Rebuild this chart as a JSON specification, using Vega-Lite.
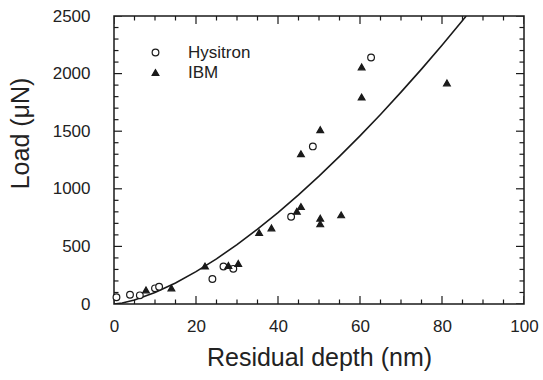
{
  "$schema": "https://vega.github.io/schema/vega-lite/v6.json",
  "width": 410,
  "height": 288,
  "autosize": {"type": "none"},
  "padding": {"left": 114, "top": 16, "right": 19, "bottom": 76},
  "background": "white",
  "config": {
    "view": {"stroke": "#1a1a1a", "strokeWidth": 1.5},
    "font": "Liberation Sans",
    "axis": {"grid": false, "domain": false, "ticks": false, "labelColor": "#222", "titleColor": "#222", "titleFontWeight": "normal", "labelFlush": false}
  },
  "datasets": {
    "curve": [
      {"depth": 0, "load": 0}, {"depth": 2, "load": 8.9}, {"depth": 5, "load": 35}, {"depth": 10, "load": 99},
      {"depth": 15, "load": 182}, {"depth": 20, "load": 281}, {"depth": 25, "load": 392}, {"depth": 30, "load": 516},
      {"depth": 35, "load": 650}, {"depth": 40, "load": 794}, {"depth": 45, "load": 948}, {"depth": 50, "load": 1110},
      {"depth": 55, "load": 1281}, {"depth": 60, "load": 1459}, {"depth": 65, "load": 1645}, {"depth": 70, "load": 1839},
      {"depth": 75, "load": 2039}, {"depth": 80, "load": 2247}, {"depth": 85, "load": 2461}, {"depth": 85.9, "load": 2500}
    ],
    "pts": [
      {"series": "Hysitron", "depth": 0.6, "load": 58},
      {"series": "Hysitron", "depth": 3.9, "load": 80},
      {"series": "Hysitron", "depth": 6.3, "load": 75},
      {"series": "Hysitron", "depth": 10, "load": 136},
      {"series": "Hysitron", "depth": 11, "load": 150},
      {"series": "Hysitron", "depth": 24, "load": 217},
      {"series": "Hysitron", "depth": 26.7, "load": 325},
      {"series": "Hysitron", "depth": 29.1, "load": 305},
      {"series": "Hysitron", "depth": 43.2, "load": 758},
      {"series": "Hysitron", "depth": 48.5, "load": 1368},
      {"series": "Hysitron", "depth": 62.7, "load": 2140},
      {"series": "IBM", "depth": 7.8, "load": 122},
      {"series": "IBM", "depth": 14, "load": 140},
      {"series": "IBM", "depth": 22.2, "load": 330},
      {"series": "IBM", "depth": 27.9, "load": 335},
      {"series": "IBM", "depth": 30.3, "load": 352},
      {"series": "IBM", "depth": 35.4, "load": 620},
      {"series": "IBM", "depth": 38.4, "load": 660},
      {"series": "IBM", "depth": 44.6, "load": 805},
      {"series": "IBM", "depth": 45.6, "load": 846},
      {"series": "IBM", "depth": 45.6, "load": 1304},
      {"series": "IBM", "depth": 50.3, "load": 745},
      {"series": "IBM", "depth": 50.3, "load": 696},
      {"series": "IBM", "depth": 50.3, "load": 1513},
      {"series": "IBM", "depth": 55.4, "load": 774},
      {"series": "IBM", "depth": 60.4, "load": 1797},
      {"series": "IBM", "depth": 60.4, "load": 2058},
      {"series": "IBM", "depth": 81.2, "load": 1919}
    ],
    "xt": [
      {"depth": 0, "kind": "major"}, {"depth": 5, "kind": "minor"}, {"depth": 10, "kind": "minor"}, {"depth": 15, "kind": "minor"},
      {"depth": 20, "kind": "major"}, {"depth": 25, "kind": "minor"}, {"depth": 30, "kind": "minor"}, {"depth": 35, "kind": "minor"},
      {"depth": 40, "kind": "major"}, {"depth": 45, "kind": "minor"}, {"depth": 50, "kind": "minor"}, {"depth": 55, "kind": "minor"},
      {"depth": 60, "kind": "major"}, {"depth": 65, "kind": "minor"}, {"depth": 70, "kind": "minor"}, {"depth": 75, "kind": "minor"},
      {"depth": 80, "kind": "major"}, {"depth": 85, "kind": "minor"}, {"depth": 90, "kind": "minor"}, {"depth": 95, "kind": "minor"},
      {"depth": 100, "kind": "major"}
    ],
    "yt": [
      {"load": 0, "kind": "major"}, {"load": 100, "kind": "minor"}, {"load": 200, "kind": "minor"}, {"load": 300, "kind": "minor"}, {"load": 400, "kind": "minor"},
      {"load": 500, "kind": "major"}, {"load": 600, "kind": "minor"}, {"load": 700, "kind": "minor"}, {"load": 800, "kind": "minor"}, {"load": 900, "kind": "minor"},
      {"load": 1000, "kind": "major"}, {"load": 1100, "kind": "minor"}, {"load": 1200, "kind": "minor"}, {"load": 1300, "kind": "minor"}, {"load": 1400, "kind": "minor"},
      {"load": 1500, "kind": "major"}, {"load": 1600, "kind": "minor"}, {"load": 1700, "kind": "minor"}, {"load": 1800, "kind": "minor"}, {"load": 1900, "kind": "minor"},
      {"load": 2000, "kind": "major"}, {"load": 2100, "kind": "minor"}, {"load": 2200, "kind": "minor"}, {"load": 2300, "kind": "minor"}, {"load": 2400, "kind": "minor"},
      {"load": 2500, "kind": "major"}
    ]
  },
  "layer": [
    {
      "data": {"name": "curve"},
      "mark": {"type": "line", "color": "#1a1a1a", "strokeWidth": 1.6, "clip": true},
      "encoding": {
        "x": {"field": "depth", "type": "quantitative", "scale": {"domain": [0, 100], "nice": false},
          "axis": {"orient": "bottom", "values": [0, 20, 40, 60, 80, 100], "format": "d",
            "labelPadding": 14, "labelFontSize": 17,
            "title": "Residual depth (nm)", "titleFontSize": 25, "titleY": 53, "titleBaseline": "middle"}},
        "y": {"field": "load", "type": "quantitative", "scale": {"domain": [0, 2500], "nice": false},
          "axis": {"orient": "left", "values": [0, 500, 1000, 1500, 2000, 2500], "format": "d",
            "labelPadding": 24, "labelFontSize": 17,
            "title": "Load (μN)", "titleFontSize": 25, "titleX": -94, "titleY": 117, "titleAngle": -90, "titleAlign": "center", "titleBaseline": "middle"}}
      }
    },
    {
      "data": {"name": "xt"}, "transform": [{"filter": "datum.kind === 'major'"}],
      "mark": {"type": "tick", "orient": "vertical", "clip": true, "color": "#1a1a1a", "thickness": 1.2, "size": 16, "opacity": 1},
      "encoding": {"x": {"field": "depth", "type": "quantitative"}, "y": {"datum": 0, "type": "quantitative"}}
    },
    {
      "data": {"name": "xt"}, "transform": [{"filter": "datum.kind === 'minor'"}],
      "mark": {"type": "tick", "orient": "vertical", "clip": true, "color": "#1a1a1a", "thickness": 1.2, "size": 9, "opacity": 1},
      "encoding": {"x": {"field": "depth", "type": "quantitative"}, "y": {"datum": 0, "type": "quantitative"}}
    },
    {
      "data": {"name": "xt"}, "transform": [{"filter": "datum.kind === 'major'"}],
      "mark": {"type": "tick", "orient": "vertical", "clip": true, "color": "#1a1a1a", "thickness": 1.2, "size": 16, "opacity": 1},
      "encoding": {"x": {"field": "depth", "type": "quantitative"}, "y": {"datum": 2500, "type": "quantitative"}}
    },
    {
      "data": {"name": "xt"}, "transform": [{"filter": "datum.kind === 'minor'"}],
      "mark": {"type": "tick", "orient": "vertical", "clip": true, "color": "#1a1a1a", "thickness": 1.2, "size": 9, "opacity": 1},
      "encoding": {"x": {"field": "depth", "type": "quantitative"}, "y": {"datum": 2500, "type": "quantitative"}}
    },
    {
      "data": {"name": "yt"}, "transform": [{"filter": "datum.kind === 'major'"}],
      "mark": {"type": "tick", "orient": "horizontal", "clip": true, "color": "#1a1a1a", "thickness": 1.2, "size": 16, "opacity": 1},
      "encoding": {"y": {"field": "load", "type": "quantitative"}, "x": {"datum": 0, "type": "quantitative"}}
    },
    {
      "data": {"name": "yt"}, "transform": [{"filter": "datum.kind === 'minor'"}],
      "mark": {"type": "tick", "orient": "horizontal", "clip": true, "color": "#1a1a1a", "thickness": 1.2, "size": 9, "opacity": 1},
      "encoding": {"y": {"field": "load", "type": "quantitative"}, "x": {"datum": 0, "type": "quantitative"}}
    },
    {
      "data": {"name": "yt"}, "transform": [{"filter": "datum.kind === 'major'"}],
      "mark": {"type": "tick", "orient": "horizontal", "clip": true, "color": "#1a1a1a", "thickness": 1.2, "size": 16, "opacity": 1},
      "encoding": {"y": {"field": "load", "type": "quantitative"}, "x": {"datum": 100, "type": "quantitative"}}
    },
    {
      "data": {"name": "yt"}, "transform": [{"filter": "datum.kind === 'minor'"}],
      "mark": {"type": "tick", "orient": "horizontal", "clip": true, "color": "#1a1a1a", "thickness": 1.2, "size": 9, "opacity": 1},
      "encoding": {"y": {"field": "load", "type": "quantitative"}, "x": {"datum": 100, "type": "quantitative"}}
    },
    {
      "data": {"name": "pts"},
      "mark": {"type": "point", "filled": true, "strokeWidth": 1.2, "size": 45, "opacity": 1},
      "encoding": {
        "x": {"field": "depth", "type": "quantitative"},
        "y": {"field": "load", "type": "quantitative"},
        "shape": {"field": "series", "type": "nominal", "scale": {"domain": ["Hysitron", "IBM"], "range": ["circle", "triangle-up"]},
          "legend": {"title": null, "orient": "none", "legendX": 33, "legendY": 28, "labelFontSize": 17, "labelColor": "#222", "labelOffset": 24, "symbolSize": 45, "symbolStrokeWidth": 1.2, "rowPadding": 2}},
        "fill": {"field": "series", "type": "nominal", "scale": {"domain": ["Hysitron", "IBM"], "range": ["white", "#1a1a1a"]},
          "legend": {"title": null, "orient": "none", "legendX": 33, "legendY": 28, "labelFontSize": 17, "labelColor": "#222", "labelOffset": 24, "symbolSize": 45, "symbolStrokeWidth": 1.2, "rowPadding": 2}},
        "stroke": {"field": "series", "type": "nominal", "scale": {"domain": ["Hysitron", "IBM"], "range": ["#1a1a1a", "#1a1a1a"]},
          "legend": {"title": null, "orient": "none", "legendX": 33, "legendY": 28, "labelFontSize": 17, "labelColor": "#222", "labelOffset": 24, "symbolSize": 45, "symbolStrokeWidth": 1.2, "rowPadding": 2}}
      }
    }
  ]
}
